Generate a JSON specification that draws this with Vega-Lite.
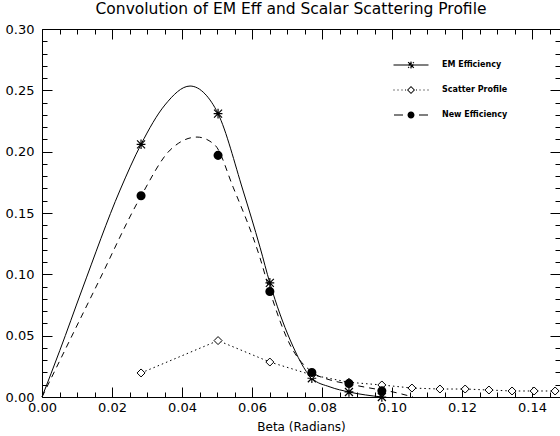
{
  "$schema": "https://vega.github.io/schema/vega-lite/v6.json",
  "width": 518,
  "height": 368,
  "autosize": {"type": "none"},
  "padding": {"left": 42, "top": 29, "right": 0, "bottom": 39},
  "background": "white",
  "title": {"text": "Convolution of EM Eff and Scalar Scattering Profile", "font": "DejaVu Sans", "fontSize": 15.5, "fontWeight": "normal", "color": "black", "anchor": "middle", "offset": 6, "dx": -10},
  "config": {"view": {"stroke": null}, "axis": {"grid": false, "domainColor": "black", "tickColor": "black", "labelColor": "black", "titleColor": "black", "labelFont": "DejaVu Sans", "titleFont": "DejaVu Sans", "labelFontSize": 13, "titleFontSize": 12, "titleFontWeight": "normal", "labelFlush": false, "labelOverlap": false, "domainWidth": 1, "tickWidth": 1}},
  "datasets": {
    "points": [
      {"series": "EM Efficiency", "beta": 0.0283, "value": 0.206},
      {"series": "EM Efficiency", "beta": 0.0503, "value": 0.231},
      {"series": "EM Efficiency", "beta": 0.0651, "value": 0.093},
      {"series": "EM Efficiency", "beta": 0.0771, "value": 0.0153},
      {"series": "EM Efficiency", "beta": 0.0877, "value": 0.0041},
      {"series": "EM Efficiency", "beta": 0.0971, "value": 0.0},
      {"series": "New Efficiency", "beta": 0.0283, "value": 0.164},
      {"series": "New Efficiency", "beta": 0.0503, "value": 0.197},
      {"series": "New Efficiency", "beta": 0.0651, "value": 0.086},
      {"series": "New Efficiency", "beta": 0.0771, "value": 0.020},
      {"series": "New Efficiency", "beta": 0.0877, "value": 0.011},
      {"series": "New Efficiency", "beta": 0.0971, "value": 0.005},
      {"series": "Scatter Profile", "beta": 0.0283, "value": 0.0196},
      {"series": "Scatter Profile", "beta": 0.0503, "value": 0.046},
      {"series": "Scatter Profile", "beta": 0.0651, "value": 0.0285},
      {"series": "Scatter Profile", "beta": 0.0771, "value": 0.018},
      {"series": "Scatter Profile", "beta": 0.0877, "value": 0.012},
      {"series": "Scatter Profile", "beta": 0.0971, "value": 0.0098},
      {"series": "Scatter Profile", "beta": 0.1057, "value": 0.0073},
      {"series": "Scatter Profile", "beta": 0.1137, "value": 0.0065},
      {"series": "Scatter Profile", "beta": 0.1209, "value": 0.0065},
      {"series": "Scatter Profile", "beta": 0.1277, "value": 0.0057},
      {"series": "Scatter Profile", "beta": 0.1343, "value": 0.0049},
      {"series": "Scatter Profile", "beta": 0.1406, "value": 0.0049},
      {"series": "Scatter Profile", "beta": 0.1466, "value": 0.0049}
    ],
    "em_curve": [
      {"beta": 0, "value": 0}, {"beta": 0.0051, "value": 0.038}, {"beta": 0.0114, "value": 0.0872},
      {"beta": 0.0223, "value": 0.1687}, {"beta": 0.0283, "value": 0.206}, {"beta": 0.0351, "value": 0.238},
      {"beta": 0.0423, "value": 0.2535}, {"beta": 0.0466, "value": 0.247}, {"beta": 0.0503, "value": 0.231},
      {"beta": 0.0574, "value": 0.1687}, {"beta": 0.0623, "value": 0.122}, {"beta": 0.0651, "value": 0.093},
      {"beta": 0.0709, "value": 0.0465}, {"beta": 0.0771, "value": 0.0153}, {"beta": 0.0823, "value": 0.0082},
      {"beta": 0.0877, "value": 0.0041}, {"beta": 0.0971, "value": 0.0}
    ],
    "new_curve": [
      {"beta": 0, "value": 0}, {"beta": 0.0157, "value": 0.0913}, {"beta": 0.0283, "value": 0.1638},
      {"beta": 0.0366, "value": 0.2013}, {"beta": 0.0443, "value": 0.2119}, {"beta": 0.0494, "value": 0.2054},
      {"beta": 0.0546, "value": 0.1711}, {"beta": 0.0623, "value": 0.1133}, {"beta": 0.0651, "value": 0.0864},
      {"beta": 0.0709, "value": 0.0424}, {"beta": 0.0771, "value": 0.0204}, {"beta": 0.0823, "value": 0.0139},
      {"beta": 0.0877, "value": 0.0106}, {"beta": 0.0937, "value": 0.0073}, {"beta": 0.1003, "value": 0.0041},
      {"beta": 0.106, "value": 0.0}
    ]
  },
  "resolve": {"axis": {"x": "independent", "y": "independent"}},
  "layer": [
    {
      "data": {"name": "em_curve"},
      "mark": {"type": "line", "color": "black", "strokeWidth": 1, "interpolate": "monotone"},
      "encoding": {
        "x": {"field": "beta", "type": "quantitative", "scale": {"domain": [0, 0.148], "nice": false, "zero": false},
          "axis": {"orient": "bottom", "title": "Beta (Radians)", "titlePadding": 2,
            "values": [0,0.005,0.01,0.015,0.02,0.025,0.03,0.035,0.04,0.045,0.05,0.055,0.06,0.065,0.07,0.075,0.08,0.085,0.09,0.095,0.1,0.105,0.11,0.115,0.12,0.125,0.13,0.135,0.14,0.145],
            "format": ".2f",
            "labelExpr": "abs(datum.value*50-round(datum.value*50))<0.001 ? datum.label : ''",
            "tickSize": {"condition": {"test": "abs(datum.value*50-round(datum.value*50))<0.001", "value": -10}, "value": -5},
            "labelPadding": 14}},
        "y": {"field": "value", "type": "quantitative", "scale": {"domain": [0, 0.3], "nice": false, "zero": false},
          "axis": {"orient": "left", "title": null,
            "values": [0,0.01,0.02,0.03,0.04,0.05,0.06,0.07,0.08,0.09,0.1,0.11,0.12,0.13,0.14,0.15,0.16,0.17,0.18,0.19,0.2,0.21,0.22,0.23,0.24,0.25,0.26,0.27,0.28,0.29,0.3],
            "format": ".2f",
            "labelExpr": "abs(datum.value*20-round(datum.value*20))<0.001 ? datum.label : ''",
            "tickSize": {"condition": {"test": "abs(datum.value*20-round(datum.value*20))<0.001", "value": -10}, "value": -5},
            "labelPadding": 18}}
      }
    },
    {
      "data": {"name": "new_curve"},
      "mark": {"type": "line", "color": "black", "strokeWidth": 1, "interpolate": "monotone", "strokeDash": [6, 5]},
      "encoding": {
        "x": {"field": "beta", "type": "quantitative", "axis": null},
        "y": {"field": "value", "type": "quantitative", "axis": null}
      }
    },
    {
      "data": {"name": "points"},
      "transform": [{"filter": "datum.series === 'Scatter Profile'"}],
      "mark": {"type": "line", "color": "black", "strokeWidth": 1, "strokeDash": [1.5, 3]},
      "encoding": {
        "x": {"field": "beta", "type": "quantitative", "axis": null},
        "y": {"field": "value", "type": "quantitative", "axis": null}
      }
    },
    {
      "data": {"name": "points"},
      "transform": [{"filter": "datum.series === 'EM Efficiency'"}],
      "mark": {"type": "point", "shape": "M-1,-1L1,1M-1,1L1,-1M0,-1.2V1.2M-1.1,0H1.1", "size": 64, "filled": false, "stroke": "black", "strokeWidth": 1.2, "opacity": 1},
      "encoding": {
        "x": {"field": "beta", "type": "quantitative", "axis": null},
        "y": {"field": "value", "type": "quantitative", "axis": null}
      }
    },
    {
      "data": {"name": "points"},
      "transform": [{"filter": "datum.series === 'Scatter Profile'"}],
      "mark": {"type": "point", "shape": "diamond", "size": 64, "filled": true, "fill": "white", "stroke": "black", "strokeWidth": 1, "opacity": 1, "fillOpacity": 1},
      "encoding": {
        "x": {"field": "beta", "type": "quantitative", "axis": null},
        "y": {"field": "value", "type": "quantitative", "axis": null}
      }
    },
    {
      "data": {"name": "points"},
      "transform": [{"filter": "datum.series === 'New Efficiency'"}],
      "mark": {"type": "point", "shape": "circle", "size": 50, "filled": true, "fill": "black", "stroke": "black", "opacity": 1},
      "encoding": {
        "x": {"field": "beta", "type": "quantitative", "axis": null},
        "y": {"field": "value", "type": "quantitative", "axis": null}
      }
    },
    {
      "data": {"name": "points"},
      "mark": {"type": "point", "filled": true, "fill": "black", "strokeWidth": 0, "opacity": 0},
      "encoding": {
        "x": {"field": "beta", "type": "quantitative",
          "axis": {"orient": "top", "title": null, "labels": false,
            "values": [0,0.005,0.01,0.015,0.02,0.025,0.03,0.035,0.04,0.045,0.05,0.055,0.06,0.065,0.07,0.075,0.08,0.085,0.09,0.095,0.1,0.105,0.11,0.115,0.12,0.125,0.13,0.135,0.14,0.145],
            "tickSize": {"condition": {"test": "abs(datum.value*50-round(datum.value*50))<0.001", "value": -10}, "value": -5}}},
        "y": {"field": "value", "type": "quantitative",
          "axis": {"orient": "right", "title": null, "labels": false,
            "values": [0,0.01,0.02,0.03,0.04,0.05,0.06,0.07,0.08,0.09,0.1,0.11,0.12,0.13,0.14,0.15,0.16,0.17,0.18,0.19,0.2,0.21,0.22,0.23,0.24,0.25,0.26,0.27,0.28,0.29,0.3],
            "tickSize": {"condition": {"test": "abs(datum.value*20-round(datum.value*20))<0.001", "value": -10}, "value": -5}}},
        "shape": {"field": "series", "type": "nominal",
          "scale": {"domain": ["EM Efficiency", "Scatter Profile", "New Efficiency"],
            "range": [
              "M-3.5,-0.1H3.5V0.1H-3.5ZM-0.45,-0.45H0.45V0.45H-0.45ZM-0.65,-0.5L-0.5,-0.65L0.65,0.5L0.5,0.65ZM-0.65,0.5L-0.5,0.65L0.65,-0.5L0.5,-0.65ZM-0.1,-0.7H0.1V0.7H-0.1Z",
              "M-3.5,-0.1h0.2v0.2h-0.2ZM-2.7,-0.1h0.2v0.2h-0.2ZM-1.9,-0.1h0.2v0.2h-0.2ZM-1.2,-0.1h0.2v0.2h-0.2ZM1.0,-0.1h0.2v0.2h-0.2ZM1.7,-0.1h0.2v0.2h-0.2ZM2.5,-0.1h0.2v0.2h-0.2ZM3.3,-0.1h0.2v0.2h-0.2ZM0,-0.8L0.8,0L0,0.8L-0.8,0ZM0,-0.55L-0.55,0L0,0.55L0.55,0Z",
              "M-3.4,-0.1H-1.6V0.1H-3.4ZM1.6,-0.1H3.4V0.1H1.6ZM-0.7,0A0.7,0.7 0 1,0 0.7,0A0.7,0.7 0 1,0 -0.7,0Z"
            ]},
          "legend": {"orient": "none", "legendX": 363, "legendY": 30, "title": null, "symbolSize": 100, "symbolOpacity": 1, "labelFont": "DejaVu Sans", "labelFontSize": 8, "labelFontWeight": "bold", "labelColor": "black", "labelOffset": 25, "rowPadding": 11, "padding": 0,
            "encode": {"symbols": {"update": {"stroke": {"value": "transparent"}, "strokeWidth": {"value": 0}, "fill": {"value": "black"}, "opacity": {"value": 1}, "fillOpacity": {"value": 1}}}}}}
      }
    }
  ]
}
